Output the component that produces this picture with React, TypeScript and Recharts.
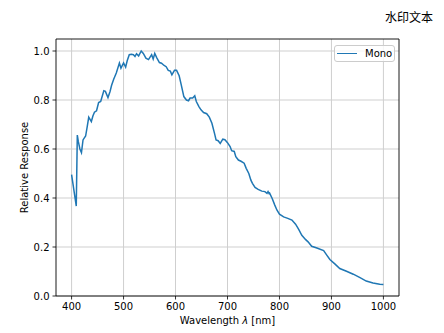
import React from 'react';
import { LineChart, Line, XAxis, YAxis, CartesianGrid, ReferenceArea } from 'recharts';

const wavelengths = [
  400, 409, 411, 413, 416, 419, 422, 427, 430, 433, 438, 441, 444, 448, 452, 456, 462, 465, 470, 474,
  477, 481, 486, 492, 495, 500, 504, 507, 511, 515, 519, 522, 525, 529, 534, 538, 543, 548, 551, 554,
  557, 560, 564, 569, 573, 578, 582, 586, 590, 593, 598, 602, 607, 611, 616, 621, 625, 628, 633, 637,
  640, 645, 649, 654, 660, 665, 670, 675, 678, 682, 686, 691, 695, 700, 705, 708, 713, 716, 721, 726,
  732, 736, 741, 745, 748, 753, 759, 766, 772, 776, 778, 780, 781, 786, 791, 795, 800, 808, 816, 824,
  831, 837, 843, 850, 855, 862, 872, 885, 891, 897, 907, 916, 929, 942, 955, 967, 980, 993, 1000,
];

const response = [
  0.495, 0.367, 0.657, 0.63, 0.6, 0.585, 0.637, 0.653, 0.69, 0.73, 0.712, 0.735, 0.75, 0.756, 0.79, 0.794, 0.838, 0.835, 0.81, 0.835,
  0.86, 0.885, 0.91, 0.951, 0.93, 0.951, 0.934, 0.96, 0.985, 0.987, 0.985, 0.978, 0.989, 0.98, 1.0, 0.99, 0.971, 0.965, 0.975, 0.985,
  0.967, 0.99, 0.972, 0.953, 0.95, 0.941, 0.936, 0.921, 0.918, 0.903, 0.921, 0.921, 0.899, 0.862, 0.814, 0.8, 0.797, 0.808, 0.808, 0.817,
  0.794, 0.773, 0.76, 0.749, 0.744, 0.73, 0.705, 0.664, 0.637, 0.634, 0.623, 0.64, 0.638, 0.626, 0.61, 0.593, 0.59, 0.569, 0.555, 0.55,
  0.542, 0.521, 0.5, 0.473, 0.46, 0.443, 0.435, 0.428, 0.426, 0.419, 0.426, 0.418, 0.42, 0.398, 0.371, 0.351, 0.334, 0.323, 0.317, 0.31,
  0.293, 0.272, 0.248, 0.231, 0.221, 0.203, 0.196, 0.185, 0.167, 0.149, 0.13, 0.112, 0.101, 0.089, 0.075, 0.061, 0.053, 0.048, 0.047,
];

const xTicks = [400, 500, 600, 700, 800, 900, 1000];
const yTicks = [0, 0.2, 0.4, 0.6, 0.8, 1.0];
const seriesName = 'Mono';
const xLabel = 'Wavelength ';
const yLabel = 'Relative Response';
const watermark = '水印文本';

const data = wavelengths.map((w, i) => ({ w, v: response[i] }));

const FONT = 'DejaVu Sans, sans-serif';
const BLUE = '#1f77b4';

const LegendBox = () => (
  <div
    style={{
      position: 'absolute',
      left: 334,
      top: 45,
      boxSizing: 'border-box',
      width: 61,
      height: 17,
      border: '1px solid #cccccc',
      borderRadius: 3,
      background: 'rgba(255,255,255,0.8)',
      fontFamily: FONT,
      fontSize: 10,
      color: '#000',
    }}
  >
    <div style={{ position: 'absolute', left: 2, top: 6.5, width: 20, height: 1.5, background: BLUE }} />
    <div style={{ position: 'absolute', left: 30, top: 1, lineHeight: '13px' }}>{seriesName}</div>
  </div>
);

export default function App() {
  return (
    <div style={{ position: 'absolute', left: 0, top: 0, width: 444, height: 333, background: '#fff' }}>
      <div
        style={{
          position: 'absolute',
          left: 385,
          top: 9,
          fontFamily: 'Noto Sans CJK SC, sans-serif',
          fontSize: 12,
          lineHeight: '16px',
          color: '#000',
          whiteSpace: 'nowrap',
        }}
      >
        {watermark}
      </div>
      <LineChart width={444} height={333} data={data} margin={{ top: 39, right: 45, bottom: 17, left: 26 }}>
        <CartesianGrid stroke="#cfcfcf" strokeWidth={1} horizontalValues={yTicks} verticalValues={xTicks} />
        <XAxis
          dataKey="w"
          type="number"
          domain={[370, 1030]}
          ticks={xTicks}
          allowDataOverflow
          height={20}
          tickSize={3.5}
          tickMargin={3}
          stroke="#000"
          tick={{ fill: '#000', fontSize: 10, fontFamily: FONT }}
          tickLine={{ stroke: '#000', strokeWidth: 0.8 }}
          axisLine={false}
          label={(props: any) => {
            const vb = props.viewBox || {};
            const cx = (vb.x ?? 56) + (vb.width ?? 343) / 2;
            return (
              <text x={cx} y={324} textAnchor="middle" fontFamily={FONT} fontSize={10} fill="#000">
                {xLabel}
                <tspan fontStyle="italic">λ</tspan>
                {' [nm]'}
              </text>
            );
          }}
        />
        <YAxis
          type="number"
          domain={[0, 1.049]}
          ticks={yTicks}
          allowDataOverflow
          width={30}
          tickSize={3.5}
          tickMargin={3}
          stroke="#000"
          tick={{ fill: '#000', fontSize: 10, fontFamily: FONT }}
          tickLine={{ stroke: '#000', strokeWidth: 0.8 }}
          axisLine={false}
          tickFormatter={(v: number) => v.toFixed(1)}
          label={(props: any) => {
            const vb = props.viewBox || {};
            const cy = (vb.y ?? 39) + (vb.height ?? 257) / 2;
            return (
              <text
                x={28}
                y={cy}
                transform={`rotate(-90, 28, ${cy})`}
                textAnchor="middle"
                fontFamily={FONT}
                fontSize={10}
                fill="#000"
              >
                {yLabel}
              </text>
            );
          }}
        />
        <Line
          type="linear"
          dataKey="v"
          name={seriesName}
          stroke={BLUE}
          strokeWidth={1.5}
          dot={false}
          activeDot={false}
          isAnimationActive={false}
        />
        <ReferenceArea
          x1={370}
          x2={1030}
          y1={0}
          y2={1.049}
          fill="none"
          fillOpacity={0}
          stroke="#000"
          strokeWidth={0.9}
          ifOverflow="visible"
        />
      </LineChart>
      <LegendBox />
    </div>
  );
}
